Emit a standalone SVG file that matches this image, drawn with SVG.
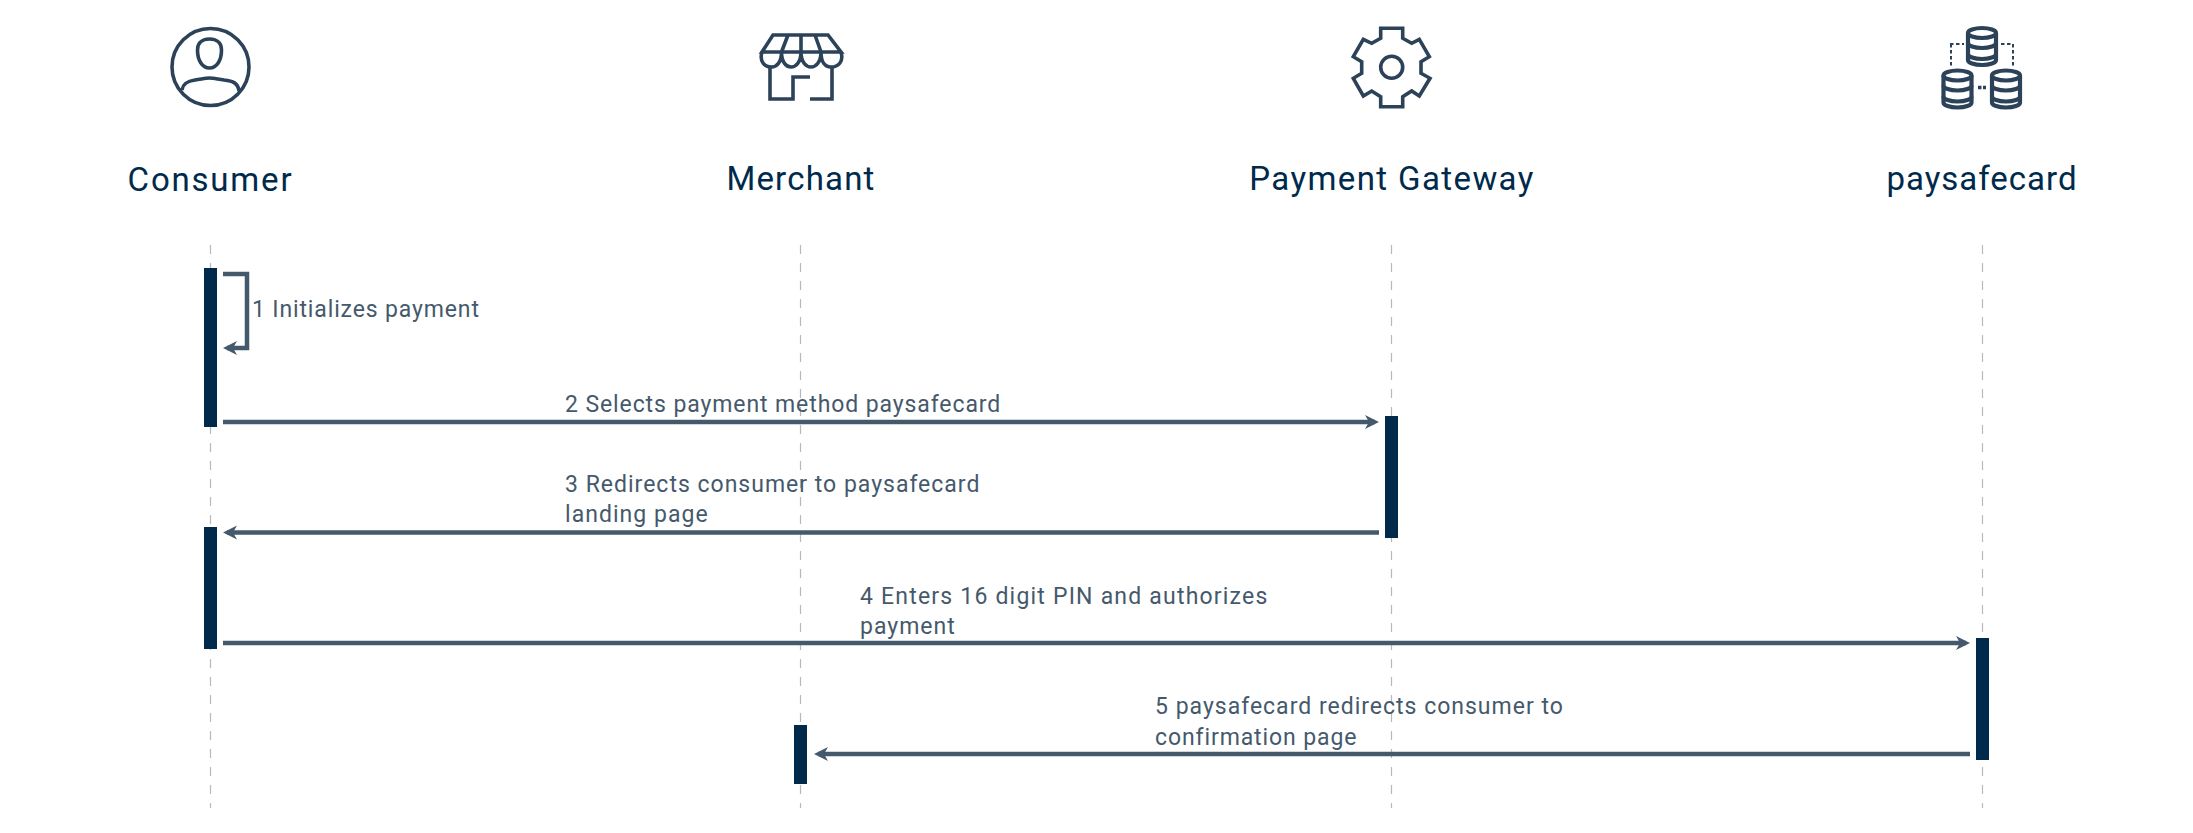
<svg xmlns="http://www.w3.org/2000/svg" width="2193" height="833" viewBox="0 0 2193 833">
<style>
.h{font-family:"Roboto","Liberation Sans",sans-serif;font-size:33px;fill:#002a4b;text-anchor:middle}
.m{font-family:"Roboto","Liberation Sans",sans-serif;font-size:23px;fill:#45596c}
.i{fill:none;stroke:#2c4258;stroke-width:3.6}
.d{fill:none;stroke:#2c4258;stroke-width:4.2}
.l{stroke:#b5b9bd;stroke-width:1.2;stroke-dasharray:9 9;fill:none}
.b{fill:#002a4b}
.c{fill:none;stroke:#45596c;stroke-width:4.5;marker-end:url(#a)}
</style>
<defs>
<marker id="a" markerUnits="userSpaceOnUse" markerWidth="18" markerHeight="18" refX="11" refY="9" orient="auto"><path d="M1 2L15 9L1 16L5 9Z" fill="#45596c"/></marker>
<g id="db"><path d="M0 6A14 5 0 0 1 28 6V33A14 5 0 0 1 0 33Z"/><path d="M0 6A14 5 0 0 0 28 6M0 16A14 5 0 0 0 28 16M0 27A14 5 0 0 0 28 27"/></g>
</defs>
<g id="lifelines">
<path class="l" d="M210.500 245V808"/><path class="l" d="M800.500 245V808"/><path class="l" d="M1391.500 245V808"/><path class="l" d="M1982.500 245V808"/>
</g>
<g id="consumer">
<circle class="i" cx="210.500" cy="67" r="38.500"/>
<path class="i" d="M209.500 39C201 39 197.500 44 197.500 50C197.500 60 202 68 209.500 68C217 68 221.500 60 221.500 50C221.500 44 218 39 209.500 39Z"/>
<path class="i" d="M182 90C183 83 188 81 195 80C202 79 206 78 209.500 78C213 78 217 79 224 80C233 81 238 83 239 91"/>
<text class="h" x="210.500" y="191" letter-spacing="1.8">Consumer</text>
<rect class="b" x="204" y="268" width="13" height="159"/>
<rect class="b" x="204" y="527" width="13" height="122"/>
</g>
<g id="merchant">
<path class="i" d="M773 35H828L841 52H762ZM781.500 52L788 35M801 35V52M821 52L815 35"/>
<path class="i" d="M762 52C759 62 765 67 771.500 67C777 67 781.500 62 781.500 52C781.500 62 786 67 791 67C796 67 801 62 801 52C801 62 806 67 811 67C816 67 821 62 821 52C821 62 825 67 831 67C838 67 844 62 841 52"/>
<path class="i" d="M770 67V99H793V77H810M810 99H832V67"/>
<text class="h" x="801" y="190" letter-spacing="1.2">Merchant</text>
<rect class="b" x="794" y="725" width="13" height="59"/>
</g>
<g id="gateway">
<path class="i" d="M1380.700 28.300H1402.700V38.300L1411.700 43.300L1419.300 39.300L1429.300 56.700L1421 61.700V73.300L1430 78.300L1419.300 96L1411.700 91L1402.700 96.700V106.700H1380.700V96.700L1371.700 91L1363.300 96L1353.300 78.300L1361.700 73.300V61.700L1353.300 56.700L1363.300 39.300L1371.700 43.300L1380.700 38.300Z"/>
<circle class="i" cx="1391.700" cy="67.300" r="11"/>
<text class="h" x="1392" y="190" letter-spacing="1.4">Payment Gateway</text>
<rect class="b" x="1385" y="416" width="13" height="122"/>
</g>
<g id="paysafecard">
<use href="#db" class="d" x="1968" y="27"/>
<use href="#db" class="d" x="1943.500" y="69.500"/>
<use href="#db" class="d" x="1992" y="69.500"/>
<path d="M1950 44H1964M1951 44V67M2001 44H2013M2013 44V67" fill="none" stroke="#2c4258" stroke-width="2" stroke-dasharray="3.500 2.500"/>
<path d="M1978 87.500H1986" fill="none" stroke="#2c4258" stroke-width="3.500" stroke-dasharray="3.500 1.500"/>
<text class="h" x="1982" y="190" letter-spacing="1">paysafecard</text>
<rect class="b" x="1976" y="638" width="13" height="122"/>
</g>
<g id="connectors">
<path class="c" d="M223 274H247V348H227"/>
<path class="c" d="M223 422H1375"/>
<path class="c" d="M1379 532.500H227"/>
<path class="c" d="M223 643H1966"/>
<path class="c" d="M1970 754H818"/>
</g>
<g id="labels">
<text class="m" x="252" y="317" letter-spacing=".86">1 Initializes payment</text>
<text class="m" x="565" y="412" letter-spacing=".9">2 Selects payment method paysafecard</text>
<text class="m" x="565" y="492" letter-spacing="1">3 Redirects consumer to paysafecard</text>
<text class="m" x="565" y="522" letter-spacing="1.050">landing page</text>
<text class="m" x="860" y="604" letter-spacing="1.200">4 Enters 16 digit PIN and authorizes</text>
<text class="m" x="860" y="634" letter-spacing="1">payment</text>
<text class="m" x="1155" y="714" letter-spacing="1">5 paysafecard redirects consumer to</text>
<text class="m" x="1155" y="745" letter-spacing=".9">confirmation page</text>
</g>
</svg>
